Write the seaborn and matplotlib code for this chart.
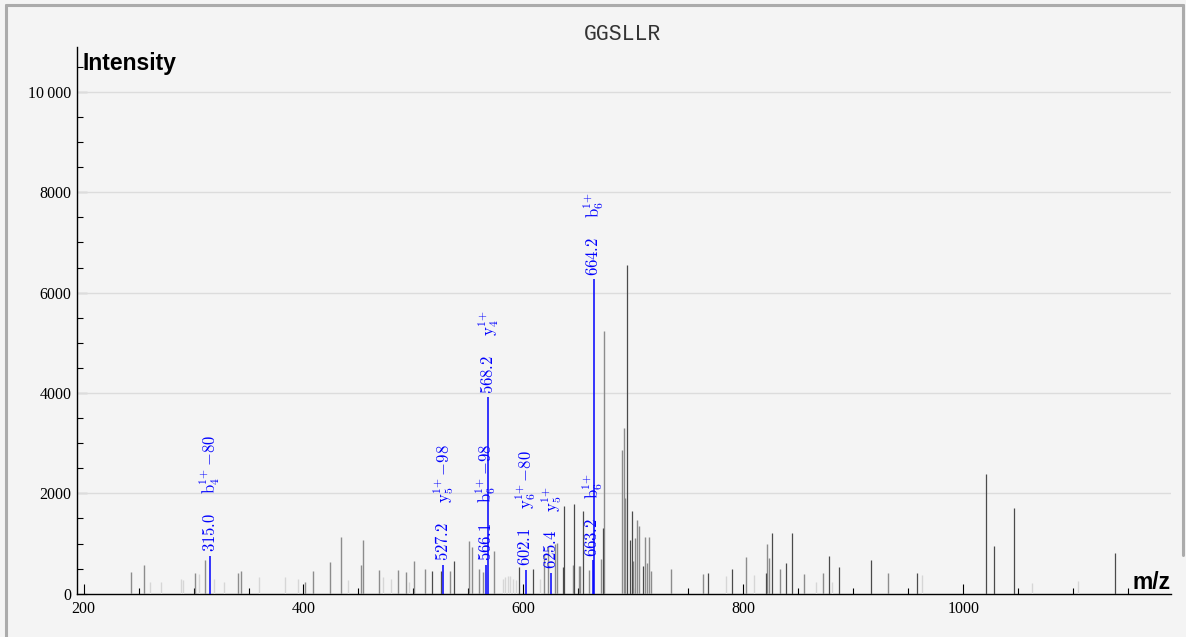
import numpy as np
import pandas as pd
import matplotlib
matplotlib.use("Agg")
import matplotlib.pyplot as plt
import seaborn as sns
from matplotlib.ticker import MultipleLocator, FuncFormatter
from matplotlib.lines import Line2D

title = "GGSLLR"

# ---- unannotated peaks (m/z, intensity) by shade ----
light_mz = [260.4, 270.4, 288.6, 290.1, 305.3, 319.0, 327.4, 359.3, 383.5, 395.3,
            440.5, 472.3, 479.3, 496.3, 581.0, 583.0, 586.0, 588.0, 591.0, 593.0,
            615.1, 784.3, 810.1, 866.2, 880.5, 962.3, 1062.7, 1104.8]
light_int = [240, 225, 285, 270, 385, 290, 230, 330, 340, 290,
             270, 340, 300, 240, 300, 340, 350, 360, 300, 280,
             290, 360, 370, 240, 240, 370, 220, 260]

grey_mz = [243.0, 255.2, 301.3, 310.4, 340.4, 343.2, 401.0, 408.4, 424.4, 434.4,
           452.0, 454.1, 468.4, 486.2, 493.3, 500.3, 510.3, 533.0, 550.3, 553.3,
           559.9, 562.9, 573.3, 618.8, 622.4, 628.5, 630.3, 645.4, 650.3, 651.7,
           660.0, 670.3, 673.0, 689.3, 691.1, 692.6, 700.0, 701.1, 703.2, 705.5,
           710.4, 712.0, 714.3, 716.4, 734.3, 763.1, 802.2, 821.3, 823.2, 833.4,
           855.3, 872.5, 931.7]
grey_int = [432, 570, 405, 670, 420, 450, 230, 450, 640, 1130,
            570, 1070, 470, 470, 440, 650, 500, 450, 1060, 930,
            490, 440, 860, 800, 960, 1000, 1010, 570, 560, 560,
            480, 700, 5240, 2860, 3300, 1900, 660, 1110, 1470, 1350,
            1130, 620, 1130, 450, 490, 400, 737, 1000, 720, 485,
            390, 405, 405]

dark_mz = [517.2, 525.4, 537.2, 595.8, 608.5, 635.8, 637.3, 646.3, 654.2, 672.4,
           694.4, 697.3, 698.6, 709.1, 768.2, 789.5, 820.4, 826.4, 838.6, 844.4,
           877.7, 887.4, 915.9, 957.8, 1020.5, 1028.4, 1046.3, 1138.4]
dark_int = [460, 450, 660, 540, 490, 540, 1750, 1780, 1640, 1310,
            6550, 1070, 1650, 560, 420, 485, 420, 1200, 620, 1200,
            757, 525, 664, 420, 2377, 956, 1713, 803]

# ---- annotated (matched) peaks ----
ann_mz = [315.0, 527.2, 566.1, 568.2, 602.1, 625.4, 663.2, 664.2]
ann_int = [760, 580, 580, 3920, 480, 420, 670, 6270]
ann_label = ["315.0", "527.2", "566.1", "568.2", "602.1", "625.4", "663.2", "664.2"]
ion_type = ["b", "y", "b", "y", "y", "y", "b", "b"]
ion_index = [4, 5, 6, 4, 6, 5, 6, 6]
ion_loss = ["80", "98", "98", "", "80", "", "", ""]

x_ticks = [200, 400, 600, 800, 1000]
y_ticks = [0, 2000, 4000, 6000, 8000, 10000]

# ---------------------------------------------------------------
sns.set_theme(style="ticks")
plt.rcParams["mathtext.fontset"] = "cm"
plt.rcParams["font.family"] = ["Liberation Serif", "DejaVu Serif"]
plt.rcParams["text.color"] = "black"

BG = "#f4f4f4"
fig = plt.figure(figsize=(11.86, 6.37), dpi=100, facecolor=BG)
ax = fig.add_axes([0.06492, 0.06797, 0.92243, 0.85871], facecolor=BG)


def stems(mz, inten, tag):
    rows = []
    for i, (m, v) in enumerate(zip(mz, inten)):
        rows.append({"mz": m, "intensity": 0.0, "peak": f"{tag}{i}"})
        rows.append({"mz": m, "intensity": float(v), "peak": f"{tag}{i}"})
    return pd.DataFrame(rows)


for mz, inten, tag, col, lw in [
    (light_mz, light_int, "l", "#d6d6d6", 1.0),
    (grey_mz, grey_int, "g", "#8c8c8c", 1.0),
    (dark_mz, dark_int, "d", "#4a4a4a", 0.9),
    (ann_mz, ann_int, "a", "#0000ff", 1.1),
]:
    sns.lineplot(data=stems(mz, inten, tag), x="mz", y="intensity", units="peak",
                 estimator=None, color=col, lw=lw, ax=ax, legend=False,
                 sort=False, solid_capstyle="butt", zorder=3)

# annotations
for m, v, lab, t, idx, loss in zip(ann_mz, ann_int, ann_label, ion_type, ion_index, ion_loss):
    ax.annotate(f"${lab}$", xy=(m, v), xytext=(0, 2.5), textcoords="offset points",
                rotation=90, ha="center", va="bottom", color="#0000ff",
                fontsize=12, zorder=5)
    ion = r"\mathrm{%s}_{%d}^{1{+}}" % (t, idx)
    if loss:
        ion += r"\,{-}" + loss
    ax.annotate(f"${ion}$", xy=(m, v), xytext=(0, 44), textcoords="offset points",
                rotation=90, ha="center", va="bottom", color="#0000ff",
                fontsize=12, zorder=5)

ax.set_xlim(194, 1189)
ax.set_ylim(0, 10900)
ax.set_xlabel("")
ax.set_ylabel("")

ax.set_xticks(x_ticks)
ax.set_yticks(y_ticks)
ax.xaxis.set_minor_locator(MultipleLocator(50))
ax.yaxis.set_minor_locator(MultipleLocator(500))
ax.yaxis.set_major_formatter(FuncFormatter(
    lambda v, p: f"{int(v):,}".replace(",", "\u2009") if v >= 10000 else f"{int(v)}"))

ax.tick_params(axis="both", which="major", direction="in", length=7.2, width=0.8,
               color="black", labelsize=11.5, labelcolor="black")
ax.tick_params(axis="both", which="minor", direction="in", length=4.0, width=0.8,
               color="black")
ax.tick_params(axis="x", which="major", pad=5)
ax.tick_params(axis="y", which="major", pad=4)

for s in ["top", "right"]:
    ax.spines[s].set_visible(False)
for s in ["left", "bottom"]:
    ax.spines[s].set_color("black")
    ax.spines[s].set_linewidth(1.0)

ax.grid(False)
for yv in y_ticks[1:]:
    ax.axhline(yv, color="#dcdcdc", lw=1.0, zorder=1)

# axis titles
fig.text(83 / 1186, 1 - 70 / 637, "Intensity", ha="left", va="baseline", color="black",
         fontsize=16.5, fontweight="bold", family=["Liberation Sans", "DejaVu Sans"])
fig.text(1171 / 1186, 1 - 589 / 637, "m/z", ha="right", va="baseline", color="black",
         fontsize=16.5, fontweight="bold", family=["Liberation Sans", "DejaVu Sans"])
fig.text(622.7 / 1186, 1 - 34.3 / 637, title, ha="center", va="center",
         fontsize=15.5, color="#333333", family=["Liberation Mono", "DejaVu Sans Mono"])

# figure frame (left full height, top, right partial)
W, H = 1186.0, 637.0
fc = "#ababab"
fig.add_artist(Line2D([6 / W, 6 / W], [0, 1 - 5 / H], transform=fig.transFigure, color=fc, lw=2.2))
fig.add_artist(Line2D([6 / W, 1183 / W], [1 - 5 / H, 1 - 5 / H], transform=fig.transFigure, color=fc, lw=2.2))
fig.add_artist(Line2D([1183 / W, 1183 / W], [1 - 555 / H, 1 - 5 / H], transform=fig.transFigure, color=fc, lw=2.2))

fig.savefig("out.png", dpi=100, facecolor=BG)
